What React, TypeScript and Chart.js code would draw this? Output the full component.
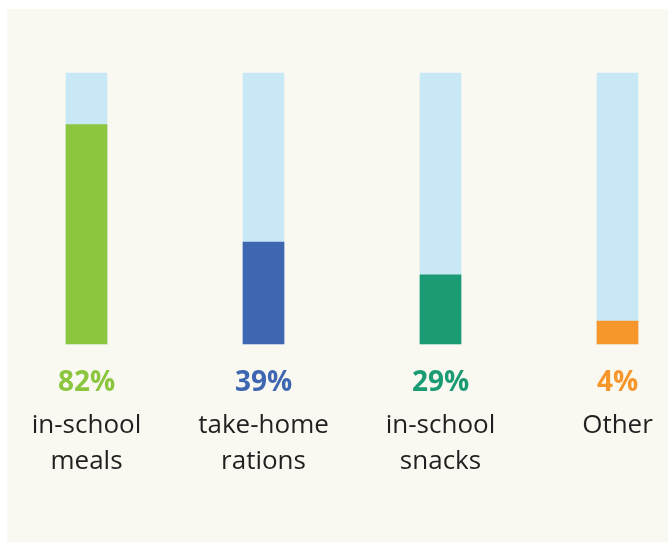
import React, { useEffect, useRef } from "react";
import { Chart, registerables } from "chart.js";

Chart.register(...registerables);

const categories = ["in-school meals", "take-home rations", "in-school snacks", "Other"];
const labelLines = [["in-school", "meals"], ["take-home", "rations"], ["in-school", "snacks"], ["Other"]];
const shareLabels = ["82%", "39%", "29%", "4%"];
const barValues = [81, 37.6, 25.5, 8.5];
const trackValues = [100, 100, 100, 100];
const barColors = ["#8cc63f", "#3f67b1", "#1a9b73", "#f7962a"];
const trackColor = "#c9e8f5";

const labelPlugin = {
  id: "labelPlugin",
  afterDatasetsDraw(chart: any) {
    const ctx = chart.ctx;
    const xs = chart.scales.x;
    ctx.save();
    ctx.textAlign = "center";
    ctx.textBaseline = "alphabetic";
    for (let i = 0; i < categories.length; i++) {
      const x = xs.getPixelForValue(i);
      ctx.fillStyle = barColors[i];
      ctx.font = "bold 28px 'Open Sans'";
      ctx.fillText(shareLabels[i], x, 382);
      ctx.fillStyle = "#231f20";
      ctx.font = "26px 'Open Sans'";
      labelLines[i].forEach((line, j) => {
        ctx.fillText(line, x, 424 + j * 36);
      });
    }
    ctx.restore();
  },
};

export default function App() {
  const ref = useRef<HTMLCanvasElement>(null);
  useEffect(() => {
    const chart = new Chart(ref.current!, {
      type: "bar",
      data: {
        labels: categories,
        datasets: [
          {
            data: barValues,
            backgroundColor: barColors,
            barThickness: 41,
            grouped: false,
            order: 0,
            clip: false as any,
          },
          {
            data: trackValues,
            backgroundColor: trackColor,
            barThickness: 41,
            grouped: false,
            order: 1,
            clip: false as any,
          },
        ],
      },
      options: {
        animation: false,
        responsive: false,
        maintainAspectRatio: false,
        layout: { padding: { left: 79.5, right: 50.5, top: 64, bottom: 198 } },
        plugins: { legend: { display: false }, tooltip: { enabled: false } },
        scales: {
          x: { display: false, offset: false },
          y: { display: false, min: 0, max: 100 },
        },
      },
      plugins: [labelPlugin],
    });
    return () => chart.destroy();
  }, []);
  return (
    <div
      style={{
        position: "absolute",
        left: 7,
        top: 9,
        width: 661,
        height: 533,
        background: "#f9f9f2",
      }}
    >
      <canvas ref={ref} width={661} height={533} style={{ display: "block" }} />
    </div>
  );
}
